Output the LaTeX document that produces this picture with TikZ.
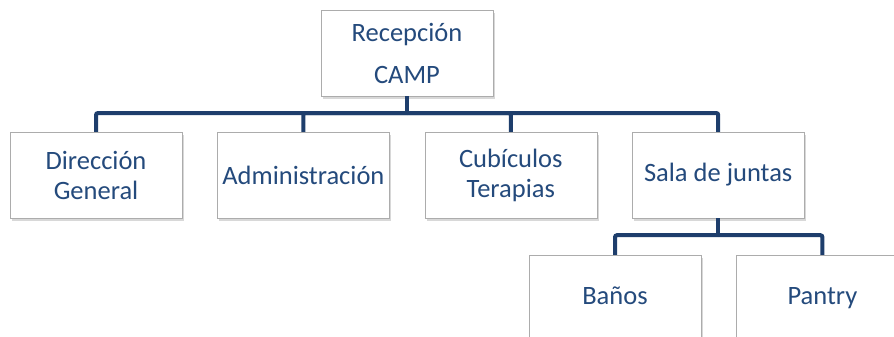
\documentclass[tikz,border=0pt]{standalone}
\usepackage{fontspec}
\setmainfont{Carlito}
\usepackage{xcolor}
\usepackage{tikz}
\usetikzlibrary{positioning,shadows}

\definecolor{linkblue}{RGB}{30,62,108}
\definecolor{textblue}{RGB}{36,74,124}

\begin{document}
\begin{tikzpicture}[
        x=1pt, y=-1pt,
        node distance=35pt and 35pt,
        area/.style={draw=gray!65, rectangle, fill=white, align=center, text=textblue,
            minimum width=172pt, minimum height=86pt, inner sep=2pt,
            font=\fontsize{26.5}{30}\selectfont,
            drop shadow={shadow xshift=2pt, shadow yshift=-3pt, fill=gray!60, opacity=0.5}},
        link/.style={draw=linkblue, line width=4pt, rounded corners=2pt}]

        \useasboundingbox (0,0) rectangle (894,337);
        \clip (0,0) rectangle (894,337);

        % Top
        \node[area, font=\fontsize{26.5}{42}\selectfont] (recep) at (407,53) {Recepción\\CAMP};

        % Areas
        \node[area] (dir) at (96,175) {Dirección\\General};
        \node[area, right=of dir] (admin) {Administración};
        \node[area, right=of admin] (cubic) {Cubículos\\Terapias};
        \node[area, right=of cubic] (sala) {Sala de juntas\strut};

        % Under Sala de juntas
        \node[area] (banos) at (615,298) {Baños\strut};
        \node[area, right=of banos] (pantry) {Pantry\strut};

        % Connections
        \draw[link] (recep.south) -- (407,113) coordinate (hub);
        \draw[link] (hub) -| (dir.north);
        \draw[link] (hub) -| (admin.north);
        \draw[link] (hub) -| (cubic.north);
        \draw[link] (hub) -| (sala.north);

        \draw[link] (sala.south) -- ++(0,17) coordinate (subhub);
        \draw[link] (subhub) -| (banos.north);
        \draw[link] (subhub) -| (pantry.north);

    \end{tikzpicture}
\end{document}
